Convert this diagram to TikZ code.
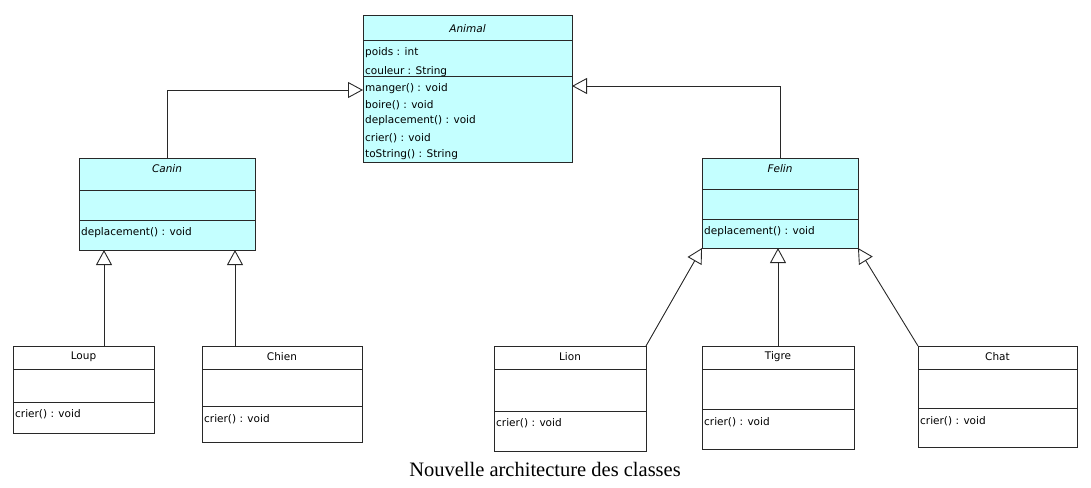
\documentclass[tikz,border=0pt]{standalone}
\usepackage{fontspec}
\setmainfont{Liberation Serif}
\newfontfamily\umlf{DejaVu Sans}
\usetikzlibrary{arrows.meta}
\definecolor{umlcyan}{RGB}{196,255,255}
\definecolor{umlline}{RGB}{40,40,40}
\tikzset{
  cls/.style={draw=umlline, line width=1pt, anchor=north west, inner sep=0pt, outer sep=0pt},
  abscls/.style={cls, fill=umlcyan},
  concls/.style={cls, fill=white},
  txt/.style={font=\umlf\fontsize{10.5}{12}\selectfont, inner sep=0pt, anchor=west},
  ttl/.style={font=\umlf\fontsize{10.5}{12}\selectfont, inner sep=0pt},
  ittl/.style={font=\umlf\itshape\fontsize{10.5}{12}\selectfont, inner sep=0pt},
  gen/.style={draw=umlline, line width=0.9pt, -{Triangle[open,length=15pt,width=16pt,line width=0.9pt]}},
  sepline/.style={draw=umlline, line width=1pt}
}
\begin{document}
\begin{tikzpicture}[x=1pt,y=-1pt]
\useasboundingbox (0,0) rectangle (1091,487);
% classes
\node[abscls, minimum width=209pt, minimum height=146pt] (animal) at (363,16) {};
\node[abscls, minimum width=176pt, minimum height=92pt] (canin) at (79,158) {};
\node[abscls, minimum width=156pt, minimum height=90pt] (felin) at (702,158) {};
\node[concls, minimum width=141pt, minimum height=87pt] (loup) at (13,346) {};
\node[concls, minimum width=160pt, minimum height=96pt] (chien) at (202,346) {};
\node[concls, minimum width=152pt, minimum height=105pt] (lion) at (494,346) {};
\node[concls, minimum width=152pt, minimum height=103pt] (tigre) at (702,346) {};
\node[concls, minimum width=159pt, minimum height=101pt] (chat) at (918,346) {};
% compartments
\draw[sepline] (363,41) -- (572,41) (363,76) -- (572,76);
\draw[sepline] (79,190) -- (255,190) (79,220) -- (255,220);
\draw[sepline] (702,189) -- (858,189) (702,219) -- (858,219);
\draw[sepline] (13,369) -- (154,369) (13,402) -- (154,402);
\draw[sepline] (202,369) -- (362,369) (202,406) -- (362,406);
\draw[sepline] (494,369) -- (646,369) (494,411) -- (646,411);
\draw[sepline] (702,369) -- (854,369) (702,409) -- (854,409);
\draw[sepline] (918,369) -- (1077,369) (918,408) -- (1077,408);
% titles
\node[ittl] (animal-t) at (467.5,29) {Animal};
\node[ittl] (canin-t) at (167,169) {Canin};
\node[ittl] (felin-t) at (780,169) {Felin};
\node[ttl] (loup-t) at (83.5,357) {Loup};
\node[ttl] (chien-t) at (282,357) {Chien};
\node[ttl] (lion-t) at (570,357) {Lion};
\node[ttl] (tigre-t) at (778,357) {Tigre};
\node[ttl] (chat-t) at (997.5,357) {Chat};
% members
\node[txt] (animal-a1) at (365,53) {poids : int};
\node[txt] (animal-a2) at (365,72) {couleur : String};
\node[txt] (animal-m1) at (365,89) {manger() : void};
\node[txt] (animal-m2) at (365,105) {boire() : void};
\node[txt] (animal-m3) at (365,121) {deplacement() : void};
\node[txt] (animal-m4) at (365,138) {crier() : void};
\node[txt] (animal-m5) at (365,155) {toString() : String};
\node[txt] (canin-m1) at (81,233) {deplacement() : void};
\node[txt] (felin-m1) at (704,232) {deplacement() : void};
\node[txt] (loup-m1) at (15,414) {crier() : void};
\node[txt] (chien-m1) at (204,419) {crier() : void};
\node[txt] (lion-m1) at (496,423) {crier() : void};
\node[txt] (tigre-m1) at (704,422) {crier() : void};
\node[txt] (chat-m1) at (920,421) {crier() : void};
% connectors
\coordinate (ya) at (0,90);
\coordinate (yb) at (0,86);
\coordinate (xl) at (104,0);
\coordinate (xc) at (235,0);
\draw[gen] (canin.north) |- (animal.west |- ya);
\draw[gen] (felin.north) |- (animal.east |- yb);
\draw[gen] (loup.north -| xl) -- (canin.south -| xl);
\draw[gen] (chien.north -| xc) -- (canin.south -| xc);
\draw[gen] (lion.north east) -- (felin.south west);
\draw[gen] (tigre.north) -- (felin.south -| tigre.north);
\draw[gen] (chat.north west) -- (felin.south east);
% caption
\node[font=\fontsize{20.5}{24}\selectfont, inner sep=0pt] (caption) at (545,469) {Nouvelle architecture des classes};
\end{tikzpicture}
\end{document}
